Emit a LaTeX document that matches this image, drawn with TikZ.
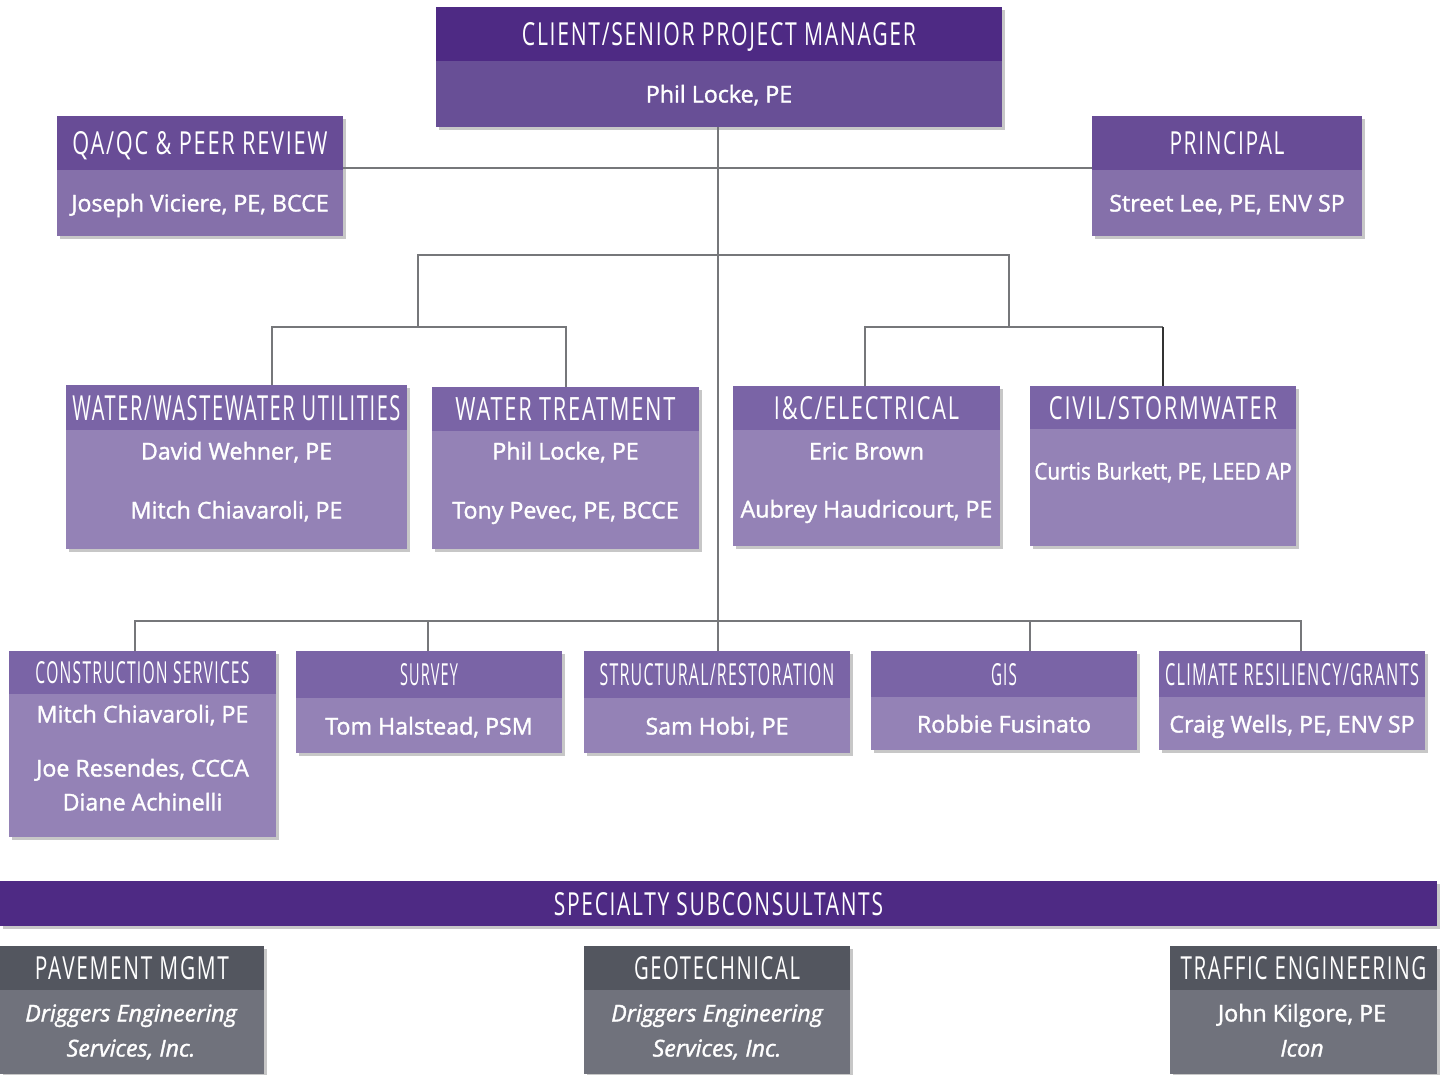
\documentclass[tikz,border=0pt]{standalone}
\usepackage{fontspec}
\setmainfont{Open Sans}[FakeBold=1.5]
\newfontfamily\hfont{Open Sans}[LetterSpace=8]
\usetikzlibrary{shadows}
\definecolor{dkp}{HTML}{4E2A84}
\definecolor{tpb}{HTML}{684F96}
\definecolor{qah}{HTML}{684C96}
\definecolor{qab}{HTML}{8570AA}
\definecolor{lvh}{HTML}{7A64A6}
\definecolor{lvb}{HTML}{9482B6}
\definecolor{gyh}{HTML}{53565F}
\definecolor{gyb}{HTML}{70727C}
\definecolor{wirec}{HTML}{76777A}
\newcommand\hdr[3]{\raisebox{0pt}[#2pt][0pt]{\resizebox{#1pt}{#2pt}{\hfont #3}}}
\tikzset{
  rect/.style={anchor=north west, inner sep=0pt, outer sep=0pt, draw=none, text=white},
  shd/.style={drop shadow={shadow xshift=3pt, shadow yshift=-3pt, opacity=0.22, fill=black}},
  tx/.style={text=white, inner sep=0pt, outer sep=0pt, text height=17pt, text depth=0pt, font=\fontsize{23.2}{28}\selectfont},
  itx/.style={tx, font=\fontsize{23.2}{28}\selectfont\itshape},
  wire/.style={draw=wirec, line width=2.6pt},
}
\begin{document}
\begin{tikzpicture}[x=1pt,y=-1pt]
\useasboundingbox (0,0) rectangle (1440,1074);

% ---- top ----
\node[rect, shd, fill=dkp, minimum width=566pt, minimum height=54pt] (top-h) at (436,7) {\hdr{394}{23}{CLIENT/SENIOR PROJECT MANAGER}};
\node[rect, shd, fill=tpb, minimum width=566pt, minimum height=66pt] (top-b) at (436,61) {};
\node[tx] (top-t) at (719,94) {Phil Locke, PE};

% ---- QA/QC ----
\node[rect, shd, fill=qah, minimum width=286pt, minimum height=54pt] (qa-h) at (57,116) {\hdr{255}{23}{QA/QC \& PEER REVIEW}};
\node[rect, shd, fill=qab, minimum width=286pt, minimum height=66pt] (qa-b) at (57,170) {};
\node[tx] (qa-t) at (200,203) {Joseph Viciere, PE, BCCE};

% ---- Principal ----
\node[rect, shd, fill=qah, minimum width=270pt, minimum height=54pt] (pr-h) at (1092,116) {\hdr{115}{23}{PRINCIPAL}};
\node[rect, shd, fill=qab, minimum width=270pt, minimum height=66pt] (pr-b) at (1092,170) {};
\node[tx] (pr-t) at (1227,203) {Street Lee, PE, ENV SP};

% ---- level 2 ----
\node[rect, shd, fill=lvh, minimum width=341pt, minimum height=45pt] (ww-h) at (66,385) {\hdr{328}{25}{WATER/WASTEWATER UTILITIES}};
\node[rect, shd, fill=lvb, minimum width=341pt, minimum height=119pt] (ww-b) at (66,430) {};
\node[tx] (ww-t1) at (236.5,451) {David Wehner, PE};
\node[tx] (ww-t2) at (236.5,510) {Mitch Chiavaroli, PE};

\node[rect, shd, fill=lvh, minimum width=267pt, minimum height=44pt] (wt-h) at (432,387) {\hdr{220}{23}{WATER TREATMENT}};
\node[rect, shd, fill=lvb, minimum width=267pt, minimum height=118pt] (wt-b) at (432,431) {};
\node[tx] (wt-t1) at (565.5,451) {Phil Locke, PE};
\node[tx] (wt-t2) at (565.5,510) {Tony Pevec, PE, BCCE};

\node[rect, shd, fill=lvh, minimum width=267pt, minimum height=44pt] (ic-h) at (733,386) {\hdr{185}{23}{I\&C/ELECTRICAL}};
\node[rect, shd, fill=lvb, minimum width=267pt, minimum height=116pt] (ic-b) at (733,430) {};
\node[tx] (ic-t1) at (866.5,451) {Eric Brown};
\node[tx] (ic-t2) at (866.5,509) {Aubrey Haudricourt, PE};

\node[rect, shd, fill=lvh, minimum width=266pt, minimum height=43pt] (cv-h) at (1030,386) {\hdr{228}{23}{CIVIL/STORMWATER}};
\node[rect, shd, fill=lvb, minimum width=266pt, minimum height=117pt] (cv-b) at (1030,429) {};
\node[tx] (cv-t) at (1163,471) {\scalebox{0.89}[1]{Curtis Burkett, PE, LEED AP}};

% ---- level 3 ----
\node[rect, shd, fill=lvh, minimum width=267pt, minimum height=43pt] (cs-h) at (9,651) {\hdr{214}{22}{CONSTRUCTION SERVICES}};
\node[rect, shd, fill=lvb, minimum width=267pt, minimum height=143pt] (cs-b) at (9,694) {};
\node[tx] (cs-t1) at (142.5,714) {Mitch Chiavaroli, PE};
\node[tx] (cs-t2) at (142.5,768) {Joe Resendes, CCCA};
\node[tx] (cs-t3) at (142.5,802) {Diane Achinelli};

\node[rect, shd, fill=lvh, minimum width=266pt, minimum height=47pt] (sv-h) at (296,651) {\hdr{58}{22}{SURVEY}};
\node[rect, shd, fill=lvb, minimum width=266pt, minimum height=55pt] (sv-b) at (296,698) {};
\node[tx] (sv-t) at (429,726) {Tom Halstead, PSM};

\node[rect, shd, fill=lvh, minimum width=266pt, minimum height=47pt] (st-h) at (584,651) {\hdr{235}{22}{STRUCTURAL/RESTORATION}};
\node[rect, shd, fill=lvb, minimum width=266pt, minimum height=55pt] (st-b) at (584,698) {};
\node[tx] (st-t) at (717,726) {Sam Hobi, PE};

\node[rect, shd, fill=lvh, minimum width=266pt, minimum height=46pt] (gi-h) at (871,651) {\hdr{26}{22}{GIS}};
\node[rect, shd, fill=lvb, minimum width=266pt, minimum height=53pt] (gi-b) at (871,697) {};
\node[tx] (gi-t) at (1004,724) {Robbie Fusinato};

\node[rect, shd, fill=lvh, minimum width=266pt, minimum height=46pt] (cl-h) at (1159,651) {\hdr{254}{22}{CLIMATE RESILIENCY/GRANTS}};
\node[rect, shd, fill=lvb, minimum width=266pt, minimum height=53pt] (cl-b) at (1159,697) {};
\node[tx] (cl-t) at (1292,724) {Craig Wells, PE, ENV SP};

% ---- specialty band ----
\node[rect, shd, fill=dkp, minimum width=1437pt, minimum height=45pt] (sp) at (0,881) {\hdr{329}{23}{SPECIALTY SUBCONSULTANTS}};

\node[rect, shd, fill=gyh, minimum width=264pt, minimum height=44pt] (pv-h) at (0,946) {\hdr{194}{23}{PAVEMENT MGMT}};
\node[rect, shd, fill=gyb, minimum width=264pt, minimum height=84pt] (pv-b) at (0,990) {};
\node[itx] (pv-t1) at (131,1013) {Driggers Engineering};
\node[itx] (pv-t2) at (131,1048) {Services, Inc.};

\node[rect, shd, fill=gyh, minimum width=266pt, minimum height=44pt] (ge-h) at (584,946) {\hdr{166}{23}{GEOTECHNICAL}};
\node[rect, shd, fill=gyb, minimum width=266pt, minimum height=84pt] (ge-b) at (584,990) {};
\node[itx] (ge-t1) at (717,1013) {Driggers Engineering};
\node[itx] (ge-t2) at (717,1048) {Services, Inc.};

\node[rect, shd, fill=gyh, minimum width=267pt, minimum height=44pt] (tr-h) at (1170,946) {\hdr{246}{23}{TRAFFIC ENGINEERING}};
\node[rect, shd, fill=gyb, minimum width=267pt, minimum height=84pt] (tr-b) at (1170,990) {};
\node[tx] (tr-t1) at (1302,1013) {John Kilgore, PE};
\node[itx] (tr-t2) at (1302,1048) {Icon};

% ---- connectors ----
\coordinate (bus3) at (718,621);
\coordinate (b2L) at (418,255);
\coordinate (b2R) at (1009,255);
\coordinate (d1) at (272,327);
\coordinate (d2) at (566,327);
\coordinate (d3) at (865,327);
\coordinate (d4) at (1163,327);
\coordinate (e1) at (135,621);
\coordinate (e2) at (428,621);
\coordinate (e3) at (718,621);
\coordinate (e4) at (1030,621);
\coordinate (e5) at (1301,621);

\draw[wire] ([yshift=2pt]qa-h.south east) -- ([yshift=2pt]pr-h.south west);
\draw[wire] (top-b.south -| bus3) -- (bus3);
\draw[wire] (b2L |- d1) -- (b2L) -- (b2R) -- (b2R |- d3);
\draw[wire] (d1 |- ww-h.north) -- (d1) -- (d2) -- (d2 |- wt-h.north);
\draw[wire] (d3 |- ic-h.north) -- (d3) -- (d4);
\draw[draw=black!80, line width=2.6pt] (d4) -- (d4 |- cv-h.north);
\draw[wire] (e1 |- cs-h.north) -- (e1) -- (e5) -- (e5 |- cl-h.north);
\draw[wire] (e2) -- (e2 |- sv-h.north);
\draw[wire] (e3) -- (e3 |- st-h.north);
\draw[wire] (e4) -- (e4 |- gi-h.north);
\end{tikzpicture}
\end{document}
